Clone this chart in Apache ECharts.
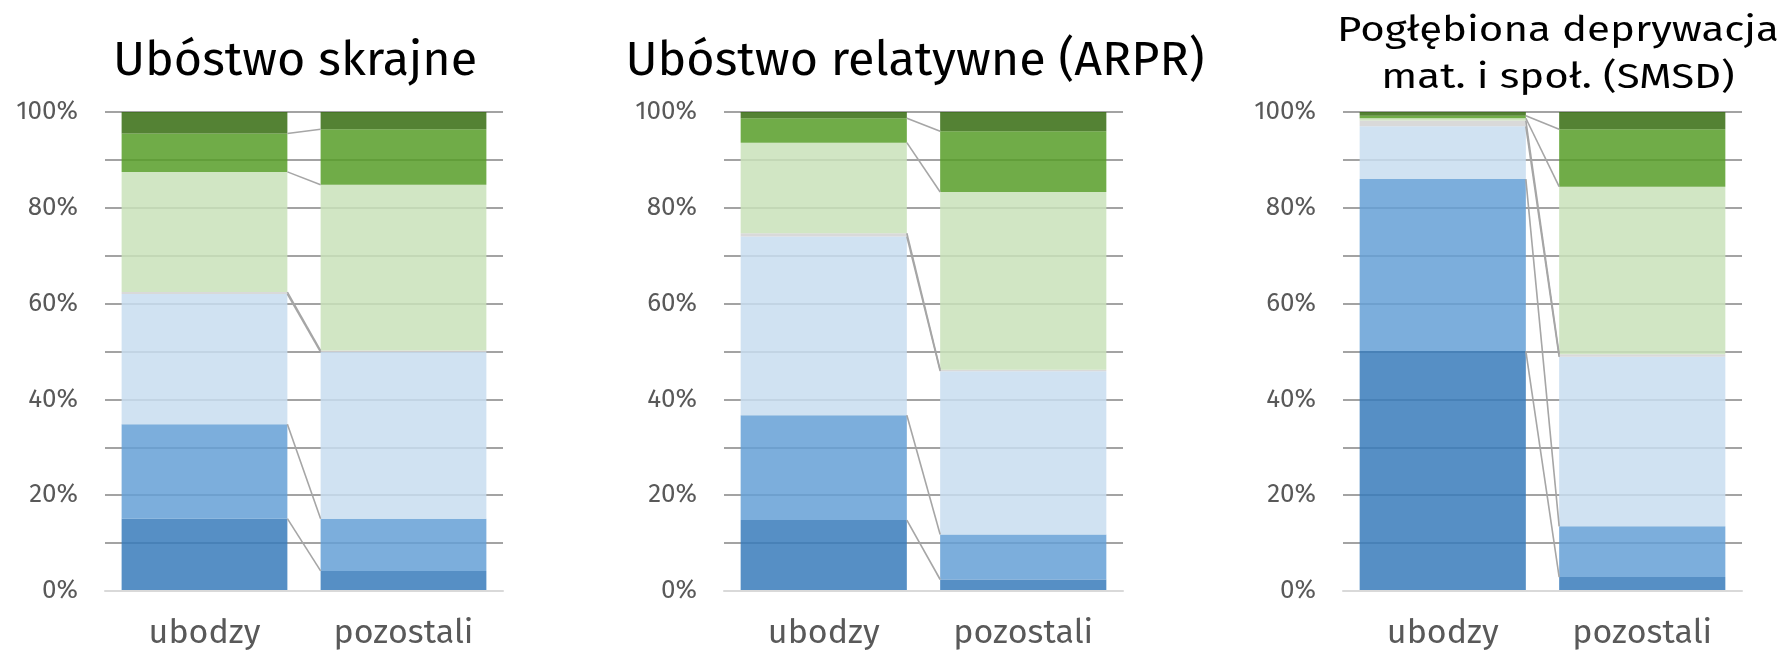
<!DOCTYPE html>
<html>
<head>
<meta charset="utf-8">
<script src="https://cdn.jsdelivr.net/npm/echarts@6/dist/echarts.min.js"></script>
<style>
  html, body { margin: 0; padding: 0; background: #fff; }
  #main { width: 1787px; height: 651px; }
</style>
</head>
<body>
<div id="main"></div>
<script>
var categories = ['ubodzy', 'pozostali'];
var titles = ['Ubóstwo skrajne', 'Ubóstwo relatywne (ARPR)', 'Pogłębiona deprywacja\nmat. i społ. (SMSD)'];
var yTicks = [0, 20, 40, 60, 80, 100];

// segments from bottom to top, in %
var skrajneUbodzy = [15.1, 19.7, 27.2, 0.4, 25.1, 8.0, 4.5];
var skrajnePozostali = [4.2, 10.9, 34.8, 0.3, 34.6, 11.6, 3.6];
var relatywneUbodzy = [14.8, 21.9, 37.3, 0.7, 18.9, 5.1, 1.3];
var relatywnePozostali = [2.4, 9.4, 34.1, 0.3, 37.1, 12.7, 4.0];
var smsdUbodzy = [50.1, 35.9, 11.0, 1.2, 0.5, 0.5, 0.8];
var smsdPozostali = [2.9, 10.6, 35.4, 0.5, 35.0, 12.0, 3.6];

var charts = [
    [skrajneUbodzy, skrajnePozostali],
    [relatywneUbodzy, relatywnePozostali],
    [smsdUbodzy, smsdPozostali]
];

var segColors = [
    'rgba(56,123,187,0.85)',
    'rgba(101,160,214,0.85)',
    'rgba(200,221,240,0.85)',
    'rgba(210,210,210,0.85)',
    'rgba(201,226,186,0.85)',
    'rgba(87,157,40,0.85)',
    'rgba(54,108,17,0.85)'
];

var FONT = "'Fira Sans', 'Open Sans', sans-serif";
var BAR_GAP = 0.167;

var grids = [
    {left: 105, top: 112, width: 398, height: 479},
    {left: 724, top: 112, width: 399, height: 479},
    {left: 1343, top: 112, width: 399, height: 479}
];
var titlePos = [
    {x: 290, top: 31, size: 48.5},
    {x: 910, top: 31, size: 48.5}
];

function cumulative(arr) {
    var out = [], s = 0;
    for (var i = 0; i < arr.length; i++) {
        s += arr[i];
        out.push(s);
    }
    return out;
}

var option = {
    animation: false,
    textStyle: {fontFamily: FONT},
    title: [],
    grid: [],
    xAxis: [],
    yAxis: [],
    series: [],
    // third title is wider in the original, so stretch it a bit
    graphic: [{
        type: 'text',
        x: 1558,
        y: 8,
        scaleX: 1.2,
        style: {
            text: titles[2],
            font: "35px " + FONT,
            fill: '#000',
            align: 'center',
            verticalAlign: 'top',
            lineHeight: 47
        }
    }]
};

for (var g = 0; g < 3; g++) {
    if (g < 2) {
        option.title.push({
            text: titles[g],
            left: titlePos[g].x,
            top: titlePos[g].top,
            textAlign: 'center',
            textStyle: {
                fontFamily: FONT,
                fontSize: titlePos[g].size,
                fontWeight: 'normal',
                color: '#000',
                lineHeight: 50
            }
        });
    }
    option.grid.push(grids[g]);
    option.xAxis.push({
        type: 'category',
        gridIndex: g,
        data: categories,
        axisTick: {show: false},
        axisLine: {show: true, lineStyle: {color: '#d9d9d9', width: 2}},
        z: 5,
        axisLabel: {fontSize: 34, color: '#595959', margin: 26, fontFamily: FONT}
    });
    option.yAxis.push({
        type: 'value',
        gridIndex: g,
        min: 0,
        max: 100,
        interval: 10,
        axisLine: {show: false},
        axisTick: {show: false},
        splitLine: {lineStyle: {color: '#858585', width: 1.6}},
        axisLabel: {
            fontSize: 26,
            color: '#595959',
            margin: 27,
            fontFamily: FONT,
            formatter: function (v) {
                return yTicks.indexOf(v) >= 0 ? v + '%' : '';
            }
        }
    });

    var pair = charts[g];
    for (var s = 0; s < 7; s++) {
        option.series.push({
            type: 'bar',
            xAxisIndex: g,
            yAxisIndex: g,
            stack: 'st' + g,
            barCategoryGap: (BAR_GAP * 100) + '%',
            data: [pair[0][s], pair[1][s]],
            itemStyle: {color: segColors[s]},
            emphasis: {disabled: true}
        });
    }

    // series lines joining segment tops between the two bars
    var c1 = cumulative(pair[0]);
    var c2 = cumulative(pair[1]);
    var links = [];
    for (var k = 0; k < 6; k++) {
        links.push([0, c1[k], c2[k]]);
    }
    option.series.push({
        type: 'custom',
        xAxisIndex: g,
        yAxisIndex: g,
        data: links,
        encode: {x: 0, y: 1},
        z: 10,
        renderItem: function (params, api) {
            var p1 = api.coord([0, api.value(1)]);
            var p2 = api.coord([1, api.value(2)]);
            var band = api.size([1, 0])[0];
            var hw = band * (1 - BAR_GAP) / 2;
            return {
                type: 'line',
                shape: {x1: p1[0] + hw, y1: p1[1], x2: p2[0] - hw, y2: p2[1]},
                style: {stroke: '#a6a6a6', lineWidth: 1.6}
            };
        }
    });
}

var chart = echarts.init(document.getElementById('main'));
chart.setOption(option);
</script>
</body>
</html>
